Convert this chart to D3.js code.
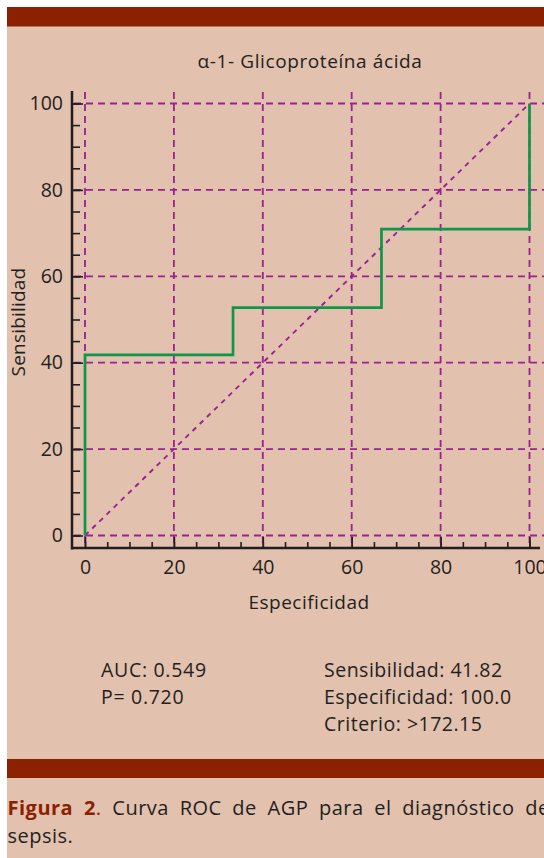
<!DOCTYPE html>
<meta charset="utf-8">
<script src="https://d3js.org/d3.v7.min.js"></script>
<style>
  body { margin: 0; background: #fff; }
  text { font-family: "Open Sans", "Noto Sans", sans-serif; fill: #231f20; }
</style>
<div id="my_dataviz"></div>
<script>

// ROC curve points (Especificidad, Sensibilidad)
var rocX = [0, 0, 33.3, 33.3, 66.7, 66.7, 100, 100];
var rocY = [0, 41.82, 41.82, 52.73, 52.73, 70.91, 70.91, 100];
var majorTicks = [0, 20, 40, 60, 80, 100];
var minorTicks = d3.range(0, 101, 5);
var statsLeft = ["AUC: 0.549", "P= 0.720"];
var statsRight = ["Sensibilidad: 41.82", "Especificidad: 100.0", "Criterio: >172.15"];

var W = 544, H = 858;
var purple = "#9b2090", green = "#0f964a", band = "#8b2100";

var svg = d3.select("#my_dataviz")
  .append("svg")
    .attr("width", W)
    .attr("height", H);

// background panel and bands
svg.append("rect").attr("x", 7).attr("y", 7).attr("width", W - 7).attr("height", H - 7).attr("fill", "#e2c1ae");
svg.append("rect").attr("x", 7).attr("y", 7).attr("width", W - 7).attr("height", 19.5).attr("fill", band);
svg.append("rect").attr("x", 7).attr("y", 759).attr("width", W - 7).attr("height", 19).attr("fill", band);

var x = d3.scaleLinear().domain([0, 100]).range([85, 529.5]);
var y = d3.scaleLinear().domain([0, 100]).range([535.5, 103.5]);

// title
svg.append("text")
  .attr("x", 310).attr("y", 68)
  .attr("text-anchor", "middle")
  .style("font-size", "19px")
  .style("letter-spacing", "0.6px")
  .text("α-1- Glicoproteína ácida");

// grid
var grid = svg.append("g")
  .attr("stroke", purple).attr("stroke-width", 1.8)
  .attr("stroke-dasharray", "7,5").attr("fill", "none");
grid.selectAll(".h").data(majorTicks).enter().append("line")
  .attr("x1", 74).attr("x2", W)
  .attr("y1", function(d) { return y(d); }).attr("y2", function(d) { return y(d); });
grid.selectAll(".v").data(majorTicks).enter().append("line")
  .attr("y1", 92).attr("y2", 547)
  .attr("x1", function(d) { return x(d); }).attr("x2", function(d) { return x(d); });

// diagonal reference
svg.append("line")
  .attr("x1", x(0)).attr("y1", y(0)).attr("x2", x(100)).attr("y2", y(100))
  .attr("stroke", purple).attr("stroke-width", 1.9).attr("stroke-dasharray", "5,5");

// ROC line
var pts = rocX.map(function(d, i) { return [d, rocY[i]]; });
svg.append("path")
  .datum(pts)
  .attr("fill", "none").attr("stroke", green).attr("stroke-width", 2.7)
  .attr("d", d3.line().x(function(d) { return x(d[0]); }).y(function(d) { return y(d[1]); }));

// Y axis
var yAxis = svg.append("g").attr("transform", "translate(72,0)");
yAxis.call(d3.axisLeft(y).tickValues(minorTicks).tickSize(-8).tickFormat(""));
yAxis.call(g => g.select(".domain").remove());
var yMaj = svg.append("g").attr("transform", "translate(72,0)")
  .call(d3.axisLeft(y).tickValues(majorTicks).tickSize(-11).tickPadding(9));
yMaj.select(".domain").remove();
yMaj.selectAll("text").style("font-size", "19.5px").style("font-family", "Open Sans").attr("fill", "#231f20");

// X axis
var xAxis = svg.append("g").attr("transform", "translate(0,548)");
xAxis.call(d3.axisBottom(x).tickValues(minorTicks).tickSize(-6).tickFormat(""));
xAxis.select(".domain").remove();
var xMaj = svg.append("g").attr("transform", "translate(0,548)")
  .call(d3.axisBottom(x).tickValues(majorTicks).tickSize(-11).tickPadding(12));
xMaj.select(".domain").remove();
xMaj.selectAll("text").style("font-size", "19.5px").style("font-family", "Open Sans").attr("fill", "#231f20");

svg.selectAll(".tick line").attr("stroke", "#231f20").attr("stroke-width", 1.6);

// axis lines
svg.append("line").attr("x1", 72).attr("x2", 72).attr("y1", 91).attr("y2", 549.5)
  .attr("stroke", "#231f20").attr("stroke-width", 2.5);
svg.append("line").attr("x1", 71).attr("x2", 540).attr("y1", 548).attr("y2", 548)
  .attr("stroke", "#231f20").attr("stroke-width", 2.5);

// axis labels
svg.append("text")
  .attr("x", 309).attr("y", 609)
  .attr("text-anchor", "middle")
  .style("font-size", "19px")
  .style("letter-spacing", "0.5px")
  .text("Especificidad");
svg.append("text")
  .attr("transform", "translate(25,322) rotate(-90)")
  .attr("text-anchor", "middle")
  .style("font-size", "19px")
  .style("letter-spacing", "0.2px")
  .text("Sensibilidad");

// stats
svg.selectAll(".sl").data(statsLeft).enter().append("text")
  .attr("x", 101).attr("y", function(d, i) { return 677 + i * 27; })
  .style("font-size", "19.5px").style("letter-spacing", "0.7px")
  .text(function(d) { return d; });
svg.selectAll(".sr").data(statsRight).enter().append("text")
  .attr("x", 324).attr("y", function(d, i) { return 677 + i * 27; })
  .style("font-size", "19.5px").style("letter-spacing", "0.5px")
  .text(function(d) { return d; });

// caption
var cap = svg.append("text").attr("x", 7.5).attr("y", 815)
  .style("font-size", "20px").style("letter-spacing", "0.5px").style("word-spacing", "5px");
cap.append("tspan").attr("fill", band).style("font-weight", "bold").text("Figura 2");
cap.append("tspan").attr("fill", band).text(".");
cap.append("tspan").text(" Curva ROC de AGP para el diagnóstico de");
svg.append("text").attr("x", 7.5).attr("y", 843)
  .style("font-size", "20px").style("letter-spacing", "0.5px").text("sepsis.");

</script>
